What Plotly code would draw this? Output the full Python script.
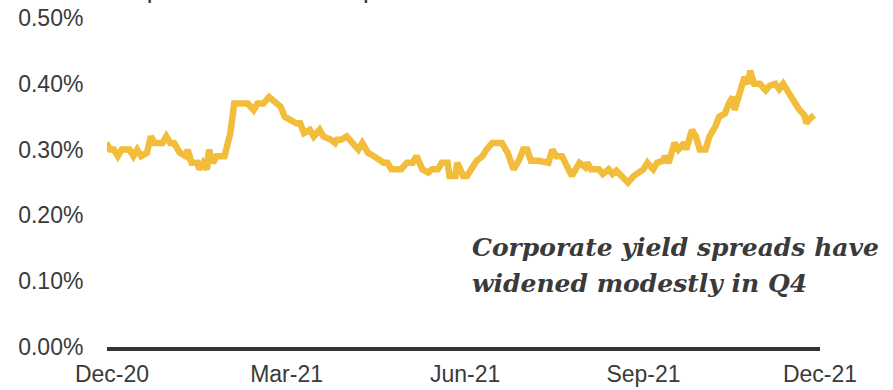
import plotly.graph_objects as go

# Investment-grade corporate spread, % (observation date, level)
dates = [
    "2020-11-28", "2020-11-30", "2020-12-02", "2020-12-04", "2020-12-06", "2020-12-10",
    "2020-12-12", "2020-12-14", "2020-12-16", "2020-12-19", "2020-12-21", "2020-12-23",
    "2020-12-27", "2020-12-29", "2020-12-31", "2021-01-02", "2021-01-05", "2021-01-08",
    "2021-01-09", "2021-01-11", "2021-01-14", "2021-01-15", "2021-01-17", "2021-01-19",
    "2021-01-20", "2021-01-22", "2021-01-24", "2021-01-28", "2021-01-31", "2021-02-02",
    "2021-02-09", "2021-02-12", "2021-02-14", "2021-02-17", "2021-02-20", "2021-02-24",
    "2021-02-26", "2021-02-28", "2021-03-03", "2021-03-06", "2021-03-08", "2021-03-10",
    "2021-03-13", "2021-03-15", "2021-03-18", "2021-03-20", "2021-03-24", "2021-03-26",
    "2021-03-27", "2021-03-29", "2021-04-01", "2021-04-04", "2021-04-07", "2021-04-09",
    "2021-04-12", "2021-04-15", "2021-04-17", "2021-04-20", "2021-04-22", "2021-04-24",
    "2021-04-29", "2021-05-02", "2021-05-05", "2021-05-07", "2021-05-10", "2021-05-13",
    "2021-05-15", "2021-05-18", "2021-05-20", "2021-05-23", "2021-05-24", "2021-05-27",
    "2021-05-28", "2021-05-31", "2021-06-02", "2021-06-05", "2021-06-07", "2021-06-10",
    "2021-06-12", "2021-06-15", "2021-06-20", "2021-06-23", "2021-06-26", "2021-06-29",
    "2021-07-01", "2021-07-03", "2021-07-05", "2021-07-09", "2021-07-12", "2021-07-14",
    "2021-07-16", "2021-07-18", "2021-07-21", "2021-07-24", "2021-07-26", "2021-07-30",
    "2021-08-02", "2021-08-03", "2021-08-05", "2021-08-09", "2021-08-11", "2021-08-14",
    "2021-08-16", "2021-08-18", "2021-08-21", "2021-08-24", "2021-08-27", "2021-08-29",
    "2021-09-01", "2021-09-03", "2021-09-06", "2021-09-08", "2021-09-11", "2021-09-12",
    "2021-09-14", "2021-09-17", "2021-09-19", "2021-09-22", "2021-09-23", "2021-09-26",
    "2021-09-28", "2021-09-30", "2021-10-03", "2021-10-05", "2021-10-08", "2021-10-10",
    "2021-10-13", "2021-10-15", "2021-10-17", "2021-10-18", "2021-10-21", "2021-10-23",
    "2021-10-25", "2021-10-26", "2021-10-28", "2021-10-31", "2021-11-03", "2021-11-05",
    "2021-11-08", "2021-11-10", "2021-11-12", "2021-11-15", "2021-11-18", "2021-11-20",
    "2021-11-23", "2021-11-24", "2021-11-26", "2021-11-28",
]
spread = [
    0.310, 0.300, 0.300, 0.290, 0.300, 0.300,
    0.290, 0.300, 0.290, 0.295, 0.320, 0.310,
    0.310, 0.320, 0.310, 0.310, 0.295, 0.290,
    0.300, 0.280, 0.280, 0.270, 0.280, 0.270,
    0.300, 0.280, 0.290, 0.290, 0.325, 0.370,
    0.370, 0.360, 0.370, 0.370, 0.380, 0.370,
    0.365, 0.350, 0.345, 0.340, 0.340, 0.325,
    0.330, 0.320, 0.330, 0.320, 0.315, 0.310,
    0.315, 0.315, 0.320, 0.310, 0.300, 0.310,
    0.295, 0.290, 0.285, 0.280, 0.280, 0.270,
    0.270, 0.280, 0.280, 0.290, 0.270, 0.265,
    0.270, 0.270, 0.280, 0.280, 0.260, 0.260,
    0.280, 0.260, 0.260, 0.275, 0.283, 0.290,
    0.300, 0.310, 0.310, 0.295, 0.270, 0.285,
    0.300, 0.300, 0.283, 0.283, 0.280, 0.280,
    0.300, 0.290, 0.290, 0.273, 0.260, 0.280,
    0.273, 0.280, 0.270, 0.270, 0.263, 0.270,
    0.263, 0.268, 0.260, 0.250, 0.260, 0.263,
    0.270, 0.280, 0.270, 0.280, 0.283, 0.290,
    0.280, 0.310, 0.300, 0.310, 0.300, 0.330,
    0.320, 0.300, 0.300, 0.320, 0.335, 0.350,
    0.355, 0.370, 0.380, 0.360, 0.395, 0.410,
    0.400, 0.420, 0.400, 0.400, 0.390, 0.397,
    0.400, 0.392, 0.400, 0.385, 0.370, 0.362,
    0.352, 0.340, 0.348, 0.352,
]

tick_dates = ["2020-12-01", "2021-03-01", "2021-06-01", "2021-09-01", "2021-12-01"]
tick_labels = ["Dec-20", "Mar-21", "Jun-21", "Sep-21", "Dec-21"]
y_ticks = [0.0, 0.1, 0.2, 0.3, 0.4, 0.5]
y_tick_labels = ["0.00%", "0.10%", "0.20%", "0.30%", "0.40%", "0.50%"]

LINE_GOLD = "#F3BD3C"
TEXT_GREY = "#3a3a3a"
SANS = "Liberation Sans, Arial, sans-serif"
SERIF = "DejaVu Serif, Georgia, serif"

fig = go.Figure()
fig.add_trace(go.Scatter(
    x=dates, y=spread, mode="lines",
    line=dict(color=LINE_GOLD, width=6.5),
    hoverinfo="skip", showlegend=False,
))

callout_font = dict(family=SERIF, size=25, color=TEXT_GREY, weight="bold", style="italic")

fig.update_layout(
    width=893, height=390,
    margin=dict(l=107, r=73, t=18, b=43),
    paper_bgcolor="white", plot_bgcolor="white",
    font=dict(family=SANS, size=23, color=TEXT_GREY),
    xaxis=dict(
        type="date", automargin=False,
        range=["2020-11-28 10:00", "2021-12-01"],
        tickvals=tick_dates, ticktext=tick_labels,
        showgrid=False, zeroline=False,
        showline=True, linecolor="#333333", linewidth=4,
        ticks="outside", ticklen=3, tickcolor="rgba(0,0,0,0)",
    ),
    yaxis=dict(
        range=[0, 0.5], automargin=False,
        tickvals=y_ticks, ticktext=y_tick_labels,
        showgrid=False, zeroline=False, showline=False,
        ticks="outside", ticklen=18, tickcolor="rgba(0,0,0,0)",
    ),
    annotations=[
        dict(
            text="Corporate yield spreads have",
            xref="paper", yref="paper", x=(470 - 107) / 713, y=(347 - 247) / 329,
            xanchor="left", yanchor="middle", align="left", showarrow=False,
            font=callout_font,
        ),
        dict(
            text="widened modestly in Q4",
            xref="paper", yref="paper", x=(470 - 107) / 713, y=(347 - 283) / 329,
            xanchor="left", yanchor="middle", align="left", showarrow=False,
            font=callout_font,
        ),
        dict(
            text="<b>Corporate Investment Grade Spreads</b>",
            xref="paper", yref="paper", x=(268 - 107) / 713, y=1.035,
            xanchor="center", yanchor="bottom", showarrow=False,
            font=dict(family=SANS, size=17, color=TEXT_GREY),
        ),
    ],
)

fig.write_html("out.html")
